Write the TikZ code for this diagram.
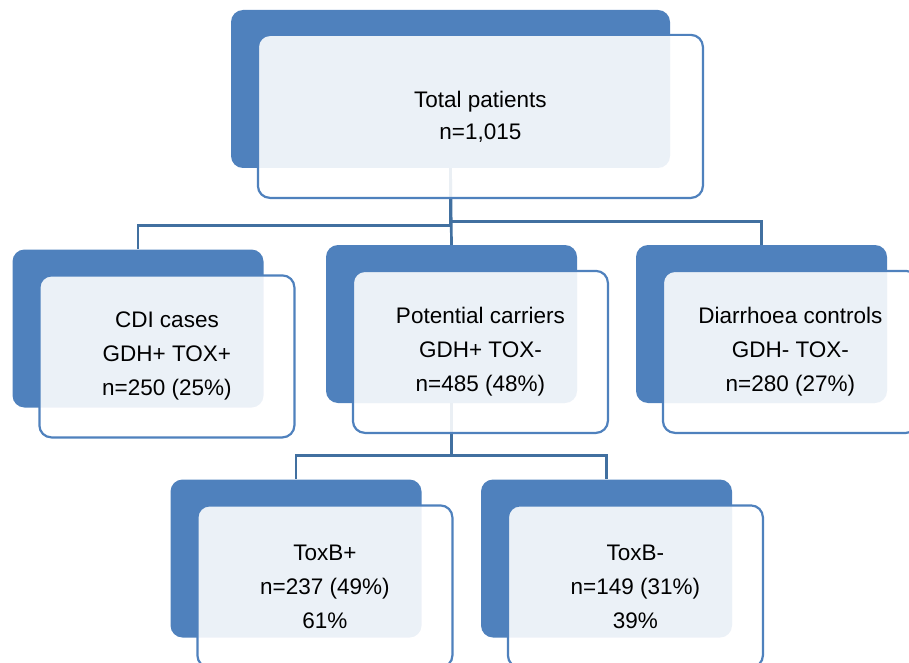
\documentclass[tikz,border=0pt]{standalone}
\usepackage{fontspec}
\setmainfont{Liberation Sans}
\usetikzlibrary{positioning}
\definecolor{boxblue}{RGB}{79,129,189}
\definecolor{linkblue}{RGB}{65,112,160}
\tikzset{
    backbox/.style={fill=boxblue, rounded corners=12pt, minimum width=251pt,
                    minimum height=158pt, inner sep=0pt},
    frontbox/.style={draw=boxblue, line width=2.2pt, fill=white, fill opacity=0.89,
                     text opacity=1, rounded corners=12pt, minimum width=255pt,
                     minimum height=162pt, inner sep=0pt, align=center,
                     font=\fontsize{22.5}{34}\selectfont},
    link/.style={draw=linkblue, line width=2.7pt}
}

\begin{document}
\begin{tikzpicture}[x=1pt, y=-1pt]
        % Cadre
        \clip (0,0) rectangle (909,663);

        % --- Blocs foncés (arrière-plan) ---
        \node[backbox, minimum width=439pt] (totalB) at (450.5,89) {};
        \node[backbox] (cdiB) at (138,328.5) {};
        \node[backbox] (carrierB) at (451.5,324) {};
        \node[backbox] (controlB) at (761.5,324) {};
        \node[backbox] (toxposB) at (296,558.5) {};
        \node[backbox] (toxnegB) at (606.5,558.5) {};

        % --- Liaisons ---
        \draw[link] (totalB.south) -- ++(0,57) -| (cdiB.north);
        \draw[link] (totalB.south) -- ++(0,53) -| (controlB.north);
        \draw[link] (totalB.south) -- (carrierB.north);
        \draw[link] (carrierB.south) -- ++(0,52) -| (toxposB.north);
        \draw[link] (carrierB.south) -- ++(0,52) -| (toxnegB.north);

        % --- Blocs clairs avec texte ---
        \node[frontbox, minimum width=445pt, minimum height=163pt,
              font=\fontsize{22.5}{32}\selectfont,
              below right=24pt and 26pt of totalB.north west] (total)
              {Total patients\\n=1,015};
        \node[frontbox, below right=25pt and 26pt of cdiB.north west] (cdi)
              {CDI cases\\GDH+ TOX+\\n=250 (25\%)};
        \node[frontbox, below right=25pt and 26pt of carrierB.north west] (carrier)
              {Potential carriers\\GDH+ TOX-\\n=485 (48\%)};
        \node[frontbox, below right=25pt and 26pt of controlB.north west] (control)
              {Diarrhoea controls\\GDH- TOX-\\n=280 (27\%)};
        \node[frontbox, below right=25pt and 26pt of toxposB.north west] (toxpos)
              {ToxB+\\n=237 (49\%)\\61\%};
        \node[frontbox, below right=25pt and 26pt of toxnegB.north west] (toxneg)
              {ToxB-\\n=149 (31\%)\\39\%};
    \end{tikzpicture}
\end{document}
